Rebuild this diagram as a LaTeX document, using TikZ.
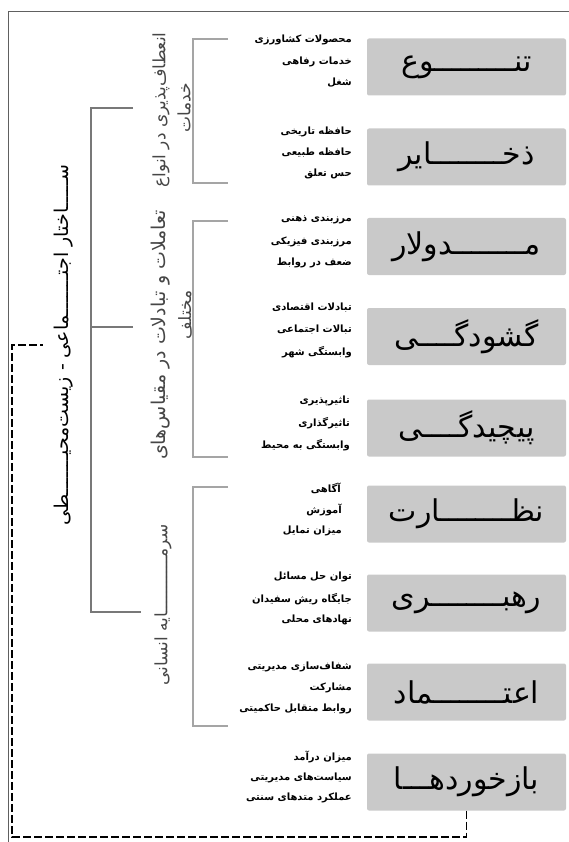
\documentclass[tikz,border=0pt]{standalone}
\usepackage{fontspec}
\newfontfamily\arabicfont[Script=Arabic]{DejaVu Sans}
\TeXXeTstate=1
\definecolor{boxgray}{RGB}{201,201,201}
\definecolor{bracketgray}{RGB}{165,165,165}
\definecolor{spinegray}{RGB}{120,120,120}
\definecolor{labelgray}{RGB}{70,70,70}
\tikzset{
  factor/.style={fill=boxgray, rounded corners=2pt, minimum width=199pt, minimum height=57pt, inner sep=0pt, font=\arabicfont\fontsize{30}{32}\selectfont},
  item/.style={anchor=east, inner sep=0pt, font=\arabicfont\bfseries\fontsize{10}{12}\selectfont},
  grouplabel/.style={rotate=90, text=labelgray, inner sep=0pt, font=\arabicfont\fontsize{17}{19}\selectfont},
  bracket/.style={draw=bracketgray, line width=1.4pt},
  spine/.style={draw=spinegray, line width=1.2pt},
  feedback/.style={line width=1.6pt, dash pattern=on 8pt off 3pt},
}

\begin{document}
\begin{tikzpicture}[x=1pt,y=-1pt]
\useasboundingbox (0,0) rectangle (569,842);

% outer frame
\draw[spinegray!80!black, line width=0.9pt] (8,842) -- (8,11) -- (569,11);

% factors
\node[factor] (tanavo) at (466.5,67) {\beginR تنـــــــــوع\endR};
\node[factor] (zakhayer) at (466.5,157) {\beginR ذخــــــــایر\endR};
\node[factor] (modolar) at (466.5,246.5) {\beginR مــــــــدولار\endR};
\node[factor] (goshudegi) at (466.5,336.5) {\beginR گشودگــــی\endR};
\node[factor] (pichidegi) at (466.5,428) {\beginR پیچیدگــــی\endR};
\node[factor] (nezarat) at (466.5,514) {\beginR نظــــــــارت\endR};
\node[factor] (rahbari) at (466.5,603) {\beginR رهبــــــــری\endR};
\node[factor] (etemad) at (466.5,692) {\beginR اعتــــــــماد\endR};
\node[factor] (bazkhord) at (466.5,782) {\beginR بازخوردهـــا\endR};

% indicators
\node[item] (tanavoA) at (352,40) {\beginR محصولات کشاورزی\endR};
\node[item] (tanavoB) at (352,62) {\beginR خدمات رفاهی\endR};
\node[item] (tanavoC) at (352,83) {\beginR شغل\endR};
\node[item] (zakhayerA) at (352,132) {\beginR حافظه تاریخی\endR};
\node[item] (zakhayerB) at (352,153) {\beginR حافظه طبیعی\endR};
\node[item] (zakhayerC) at (352,174) {\beginR حس تعلق\endR};
\node[item] (modolarA) at (352,220) {\beginR مرزبندی ذهنی\endR};
\node[item] (modolarB) at (352,242) {\beginR مرزبندی فیزیکی\endR};
\node[item] (modolarC) at (352,263) {\beginR ضعف در روابط\endR};
\node[item] (goshudegiA) at (352,308) {\beginR تبادلات اقتصادی\endR};
\node[item] (goshudegiB) at (352,330) {\beginR تبالات اجتماعی\endR};
\node[item] (goshudegiC) at (352,352) {\beginR وابستگی شهر\endR};
\node[item] (pichidegiA) at (350,401) {\beginR تاثیرپذیری\endR};
\node[item] (pichidegiB) at (350,423) {\beginR تاثیرگذاری\endR};
\node[item] (pichidegiC) at (350,445) {\beginR وابستگی به محیط\endR};
\node[item] (nezaratA) at (341,488) {\beginR آگاهی\endR};
\node[item] (nezaratB) at (342,510) {\beginR آموزش\endR};
\node[item] (nezaratC) at (342,531) {\beginR میزان تمایل\endR};
\node[item] (rahbariA) at (352,577) {\beginR توان حل مسائل\endR};
\node[item] (rahbariB) at (352,599) {\beginR جایگاه ریش سفیدان\endR};
\node[item] (rahbariC) at (352,620) {\beginR نهادهای محلی\endR};
\node[item] (etemadA) at (352,667) {\beginR شفاف‌سازی مدیریتی\endR};
\node[item] (etemadB) at (352,688) {\beginR مشارکت\endR};
\node[item] (etemadC) at (352,709) {\beginR روابط متقابل حاکمیتی\endR};
\node[item] (bazkhordA) at (352,757) {\beginR میزان درآمد\endR};
\node[item] (bazkhordB) at (352,778) {\beginR سیاست‌های مدیریتی\endR};
\node[item] (bazkhordC) at (352,798) {\beginR عملکرد متدهای سنتی\endR};

% group brackets
\coordinate (g1top) at (228,39);
\coordinate (g1bot) at (228,183);
\coordinate (g2top) at (228,221);
\coordinate (g2bot) at (228,457);
\coordinate (g3top) at (228,487);
\coordinate (g3bot) at (228,726);
\draw[bracket] (g1top) -- ++(-35,0) |- (g1bot);
\draw[bracket] (g2top) -- ++(-35,0) |- (g2bot);
\draw[bracket] (g3top) -- ++(-35,0) |- (g3bot);

% group labels
\node[grouplabel] (g1a) at (161,110) {\beginR انعطاف‌پذیری در انواع\endR};
\node[grouplabel] (g1b) at (184,108) {\beginR خدمات\endR};
\node[grouplabel, font=\arabicfont\fontsize{19}{21}\selectfont] (g2a) at (161,335) {\beginR تعاملات و تبادلات در مقیاس‌های\endR};
\node[grouplabel] (g2b) at (185,315) {\beginR مختلف\endR};
\node[grouplabel] (g3) at (163,605) {\beginR سرمـــــــــــایه انسانی\endR};

% main bracket
\coordinate (s1top) at (133,108);
\coordinate (s1mid) at (133,327);
\coordinate (s1bot) at (141,612);
\draw[spine] (s1top) -- ++(-42,0) |- (s1bot);
\draw[spine] (s1mid) -- ++(-42,0);

\node[grouplabel, text=black, font=\arabicfont\fontsize{19}{21}\selectfont] (system) at (64,345)
  {\beginR ســـــاختار اجتـــــــماعی - زیست‌محیـــــــطی\endR};

% feedback loop
\coordinate (fbcorner) at (12,837);
\coordinate (fbend) at (43,345);
\draw[feedback] (bazkhord.south) |- (fbcorner) |- (fbend);

\end{tikzpicture}
\end{document}
